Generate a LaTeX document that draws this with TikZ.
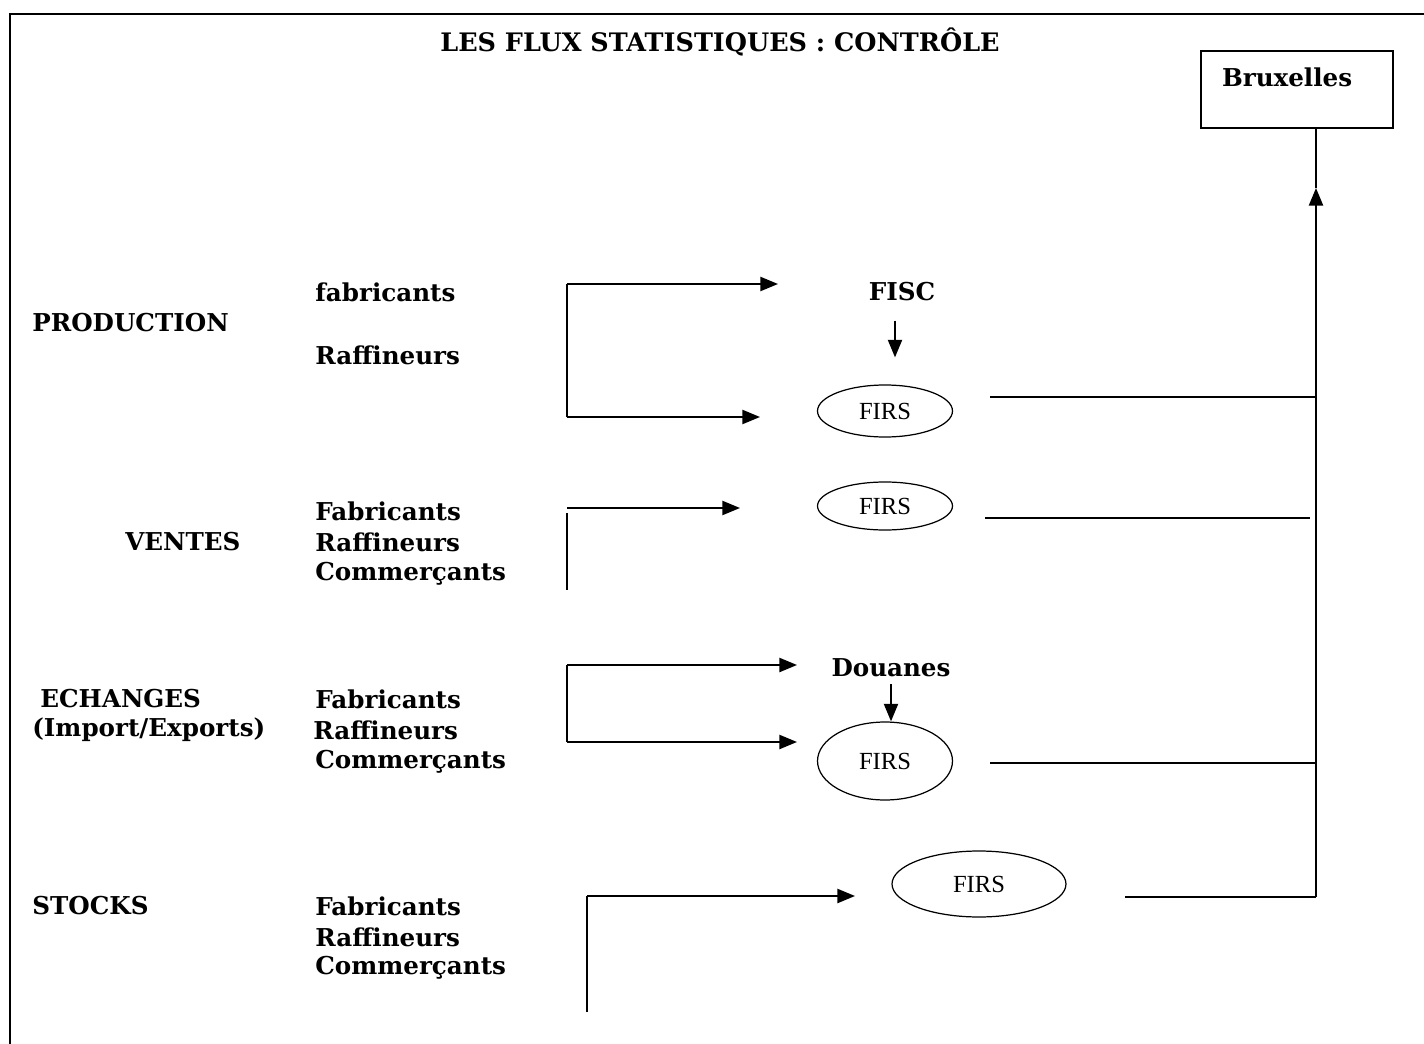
\documentclass[tikz,border=0pt]{standalone}
\usepackage{fontspec}
\setmainfont{DejaVu Serif}
\newfontfamily\firsfont{Liberation Serif}
\usetikzlibrary{arrows.meta,shapes.geometric}
\begin{document}
\begin{tikzpicture}[x=0.02cm,y=-0.02cm,
  lbl/.style={anchor=west,inner sep=0pt,font=\fontsize{14}{16}\selectfont\bfseries},
  firs/.style={draw,ellipse,line width=0.7pt,inner sep=0pt,font=\fontsize{14}{16}\selectfont\firsfont},
  flow/.style={line width=1.1pt,-{Triangle[length=10pt,width=8pt]}},
  link/.style={line width=1.1pt}]
  \useasboundingbox (0,0) rectangle (1424,1044);
  \draw[line width=1.2pt] (10,1044) -- (10,14) -- (1424,14);
  \node[lbl,anchor=center,font=\fontsize{14.5}{16}\selectfont\bfseries] (title) at (720,42) {LES FLUX STATISTIQUES : CONTRÔLE};
  \node[draw,line width=0.8pt,minimum width=3.84cm,minimum height=1.54cm,
    inner xsep=0.42cm,text width=3cm,align=left,text depth=0.5cm,
    font=\fontsize{14}{16}\selectfont\bfseries] (bxl) at (1297,89.5) {Bruxelles};

  % production
  \node[lbl] (prod) at (32,323) {PRODUCTION};
  \node[lbl] (prodfab) at (315,292) {fabricants};
  \node[lbl] (prodraf) at (315,355) {Raffineurs};
  \node[lbl,anchor=center] (fisc) at (902,292) {FISC};
  \node[firs,minimum width=2.7cm,minimum height=1.04cm] (firs1) at (885,411) {FIRS};
  \coordinate (p1) at (567,284);
  \coordinate (p2) at (567,417);
  \draw[link] (p2) -- (p1);
  \draw[flow] (p1) -- (778,284);
  \draw[flow] (p2) -- (760,417);
  \draw[flow,shorten <=0.38cm,shorten >=0.54cm] ([xshift=-0.14cm]fisc.south) -- ([xshift=-0.14cm]fisc.south |- firs1.north);

  % ventes
  \node[lbl] (ventes) at (125,542) {VENTES};
  \node[lbl] (ventfab) at (315,511) {Fabricants};
  \node[lbl] (ventraf) at (315,542) {Raffineurs};
  \node[lbl] (ventcom) at (315,574) {Commerçants};
  \node[firs,minimum width=2.7cm,minimum height=0.96cm] (firs2) at (885,506) {FIRS};
  \coordinate (v1) at (567,508);
  \draw[link] (567,590) -- (567,513);
  \draw[flow] (v1) -- (740,508);

  % echanges
  \node[lbl] (ech) at (40,699) {ECHANGES};
  \node[lbl] (echimp) at (32,730) {(Import/Exports)};
  \node[lbl] (echfab) at (315,699) {Fabricants};
  \node[lbl] (echraf) at (313,730) {Raffineurs};
  \node[lbl] (echcom) at (315,762) {Commerçants};
  \node[lbl,anchor=center] (douanes) at (891,668) {Douanes};
  \node[firs,minimum width=2.7cm,minimum height=1.56cm] (firs3) at (885,761) {FIRS};
  \coordinate (e1) at (567,665);
  \coordinate (e2) at (567,742);
  \draw[link] (e2) -- (e1);
  \draw[flow] (e1) -- (797,665);
  \draw[flow] (e2) -- (797,742);
  \draw[flow,shorten <=0.14cm] (douanes.south) -- (douanes.south |- firs3.north);

  % stocks
  \node[lbl] (stocks) at (32,906) {STOCKS};
  \node[lbl] (stofab) at (315,906) {Fabricants};
  \node[lbl] (storaf) at (315,937) {Raffineurs};
  \node[lbl] (stocom) at (315,968) {Commerçants};
  \node[firs,minimum width=3.48cm,minimum height=1.32cm] (firs4) at (979,884) {FIRS};
  \coordinate (s1) at (587,896);
  \draw[link] (587,1012) -- (s1);
  \draw[flow] (s1) -- (855,896);

  % vers Bruxelles
  \coordinate (top) at (1316,188);
  \coordinate (j1) at (1316,397);
  \coordinate (j2) at (1310,518);
  \coordinate (j3) at (1316,763);
  \coordinate (j4) at (1316,897);
  \draw[link] (990,397) -- (j1);
  \draw[link] (985,518) -- (j2);
  \draw[link] (990,763) -- (j3);
  \draw[link] (1125,897) -- (j4);
  \draw[flow] (j4) -- (top);
  \draw[line width=0.6pt] (top) -- (top |- bxl.south);
\end{tikzpicture}
\end{document}
